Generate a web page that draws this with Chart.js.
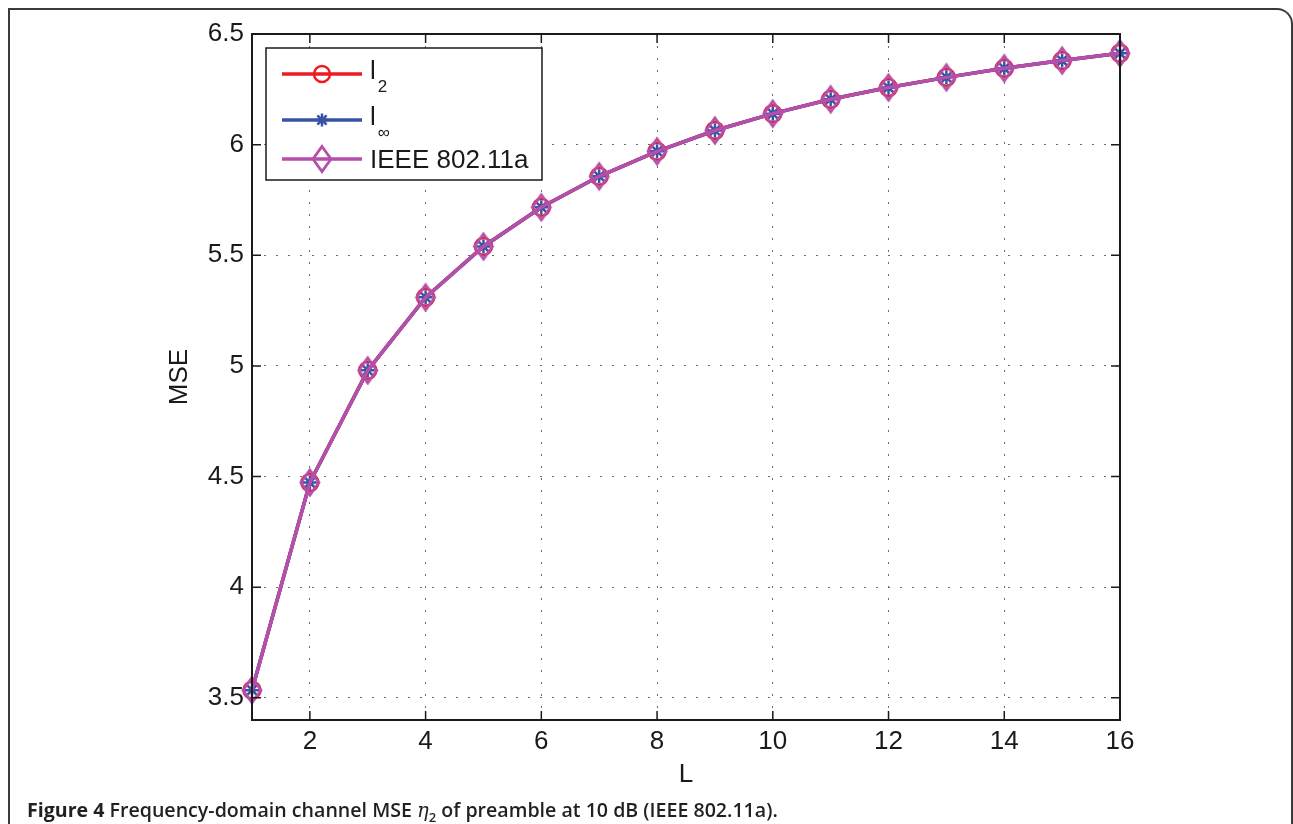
<!DOCTYPE html>
<html>
<head>
<meta charset="utf-8">
<script src="https://cdn.jsdelivr.net/npm/chart.js@4/dist/chart.umd.min.js"></script>
<style>
  body { margin: 0; background: #fff; }
  #moldura { position: absolute; left: 8px; top: 8px; width: 1281px; height: 840px;
             border: 2px solid #3a3a3a; border-bottom: none; border-top-right-radius: 16px; }
  #area { position: absolute; left: 0; top: 0; width: 1293px; height: 824px; }
  #legenda-figura { position: absolute; left: 27px; top: 796px; font-family: "Open Sans", sans-serif;
             font-size: 19.6px; font-weight: 600; color: #231f20; white-space: nowrap; }
  #legenda-figura b { font-weight: 700; }
  #legenda-figura i { font-family: "DejaVu Serif", serif; font-weight: 400; }
  #legenda-figura sub { font-size: 13px; }
</style>
</head>
<body>
<div id="moldura"></div>
<div id="area"><canvas id="grafico" width="1293" height="824"></canvas></div>
<div id="legenda-figura"><b>Figure 4</b> Frequency-domain channel MSE <i>η</i><sub>2</sub> of preamble at 10 dB (IEEE 802.11a).</div>

<script>
// dados
var valoresL = [1, 2, 3, 4, 5, 6, 7, 8, 9, 10, 11, 12, 13, 14, 15, 16];
var mseL2   = [3.535, 4.473, 4.98, 5.31, 5.54, 5.717, 5.857, 5.97, 6.064, 6.14, 6.205, 6.258, 6.304, 6.345, 6.38, 6.413];
var mseLinf = [3.535, 4.473, 4.98, 5.31, 5.54, 5.717, 5.857, 5.97, 6.064, 6.14, 6.205, 6.258, 6.304, 6.345, 6.38, 6.413];
var mseIeee = [3.535, 4.473, 4.98, 5.31, 5.54, 5.717, 5.857, 5.97, 6.064, 6.14, 6.205, 6.258, 6.304, 6.345, 6.38, 6.413];
var ticksX = [2, 4, 6, 8, 10, 12, 14, 16];
var ticksY = [3.5, 4, 4.5, 5, 5.5, 6, 6.5];
var nomesSerie = ['l', 'l', 'IEEE 802.11a'];
var subscritos = ['2', '\u221e', ''];

var vermelho = '#ed1c24';
var azul = '#3953a4';
var magenta = '#b54fa9';
var fonte = '"Liberation Sans", Arial, sans-serif';

function pontos(valores) {
  return valores.map(function(v, i) { return { x: valoresL[i], y: v }; });
}

// losango alto como o do matlab
function desenhaLosango(c, cx, cy) {
  c.moveTo(cx, cy - 12.5); c.lineTo(cx + 9, cy); c.lineTo(cx, cy + 12.5); c.lineTo(cx - 9, cy);
  c.closePath();
}
var losango = document.createElement('canvas');
losango.width = 24; losango.height = 31;
(function() {
  var c = losango.getContext('2d');
  c.strokeStyle = magenta;
  c.lineWidth = 2.8;
  c.lineJoin = 'miter';
  c.beginPath();
  desenhaLosango(c, 12, 15.5);
  c.stroke();
})();

// caixa do eixo com marcas para dentro (estilo matlab)
var caixaPlugin = {
  id: 'caixa',
  afterDatasetsDraw: function(chart) {
    var ctx = chart.ctx, a = chart.chartArea, x = chart.scales.x, y = chart.scales.y;
    ctx.save();
    ctx.strokeStyle = '#1a1a1a';
    ctx.lineWidth = 2;
    ctx.strokeRect(a.left, a.top, a.right - a.left, a.bottom - a.top);
    ctx.lineWidth = 1.5;
    ctx.beginPath();
    ticksX.forEach(function(v) {
      var px = x.getPixelForValue(v);
      ctx.moveTo(px, a.bottom); ctx.lineTo(px, a.bottom - 9);
      ctx.moveTo(px, a.top); ctx.lineTo(px, a.top + 9);
    });
    ticksY.forEach(function(v) {
      var py = y.getPixelForValue(v);
      ctx.moveTo(a.left, py); ctx.lineTo(a.left + 9, py);
      ctx.moveTo(a.right, py); ctx.lineTo(a.right - 9, py);
    });
    ctx.stroke();
    ctx.restore();
  }
};

function marcador(ctx, estilo, cor, cx, cy) {
  ctx.save();
  ctx.strokeStyle = cor;
  ctx.lineWidth = 2.5;
  ctx.beginPath();
  if (estilo === 'circle') {
    ctx.arc(cx, cy, 8, 0, Math.PI * 2);
  } else if (estilo === 'star') {
    for (var k = 0; k < 4; k++) {
      var ang = k * Math.PI / 4;
      ctx.moveTo(cx - 6.5 * Math.cos(ang), cy - 6.5 * Math.sin(ang));
      ctx.lineTo(cx + 6.5 * Math.cos(ang), cy + 6.5 * Math.sin(ang));
    }
  } else {
    ctx.lineWidth = 2.8;
    desenhaLosango(ctx, cx, cy);
  }
  ctx.stroke();
  ctx.restore();
}

// legenda desenhada a mao por causa dos subscritos
var legendaPlugin = {
  id: 'legendaManual',
  afterDraw: function(chart) {
    var ctx = chart.ctx, a = chart.chartArea;
    var lx = a.left + 14, ly = a.top + 14;
    var linhas = [26, 72, 111];
    var estilos = ['circle', 'star', 'diamond'];
    ctx.save();
    ctx.fillStyle = '#fff';
    ctx.fillRect(lx, ly, 276, 132);
    ctx.strokeStyle = '#1a1a1a';
    ctx.lineWidth = 1.5;
    ctx.strokeRect(lx, ly, 276, 132);
    chart.data.datasets.forEach(function(ds, i) {
      var yy = ly + linhas[i];
      ctx.strokeStyle = ds.borderColor;
      ctx.lineWidth = 3.5;
      ctx.beginPath();
      ctx.moveTo(lx + 16, yy); ctx.lineTo(lx + 96, yy);
      ctx.stroke();
      marcador(ctx, estilos[i], ds.borderColor, lx + 56, yy);
      ctx.fillStyle = '#1a1a1a';
      ctx.textBaseline = 'alphabetic';
      ctx.textAlign = 'left';
      ctx.font = '26px ' + fonte;
      if (subscritos[i]) {
        ctx.fillText(nomesSerie[i], lx + 104, yy + 5);
        var w = ctx.measureText(nomesSerie[i]).width;
        ctx.font = '17px ' + fonte;
        ctx.fillText(subscritos[i], lx + 104 + w + 2, yy + 18);
      } else {
        ctx.fillText(nomesSerie[i], lx + 104, yy + 9);
      }
    });
    ctx.restore();
  }
};

var ctx = document.getElementById('grafico').getContext('2d');
var grafico = new Chart(ctx, {
  type: 'line',
  data: {
    datasets: [{
      label: 'l2',
      data: pontos(mseL2),
      borderColor: vermelho,
      backgroundColor: 'rgba(0,0,0,0)',
      borderWidth: 3.5,
      pointStyle: 'circle',
      pointRadius: 8.5,
      pointBorderWidth: 2.5,
      pointBorderColor: vermelho,
      pointBackgroundColor: 'rgba(0,0,0,0)',
      order: 3,
      clip: false
    }, {
      label: 'linf',
      data: pontos(mseLinf),
      borderColor: azul,
      backgroundColor: 'rgba(0,0,0,0)',
      borderWidth: 3.5,
      pointStyle: 'star',
      pointRadius: 7,
      pointBorderWidth: 2.5,
      pointBorderColor: azul,
      pointBackgroundColor: 'rgba(0,0,0,0)',
      order: 2,
      clip: false
    }, {
      label: 'IEEE 802.11a',
      data: pontos(mseIeee),
      borderColor: magenta,
      backgroundColor: 'rgba(0,0,0,0)',
      borderWidth: 3.5,
      pointStyle: losango,
      pointRadius: 12,
      pointBorderColor: magenta,
      order: 1,
      clip: false
    }]
  },
  options: {
    responsive: false,
    animation: false,
    devicePixelRatio: 1,
    layout: { padding: { left: 160, top: 34, right: 173, bottom: 36 } },
    plugins: { legend: { display: false }, tooltip: { enabled: false } },
    scales: {
      x: {
        type: 'linear',
        min: 1,
        max: 16,
        afterBuildTicks: function(s) { s.ticks = ticksX.map(function(v) { return { value: v }; }); },
        afterFit: function(s) { s.height = 68; },
        ticks: { font: { family: fonte, size: 26 }, color: '#1a1a1a', padding: 6, maxRotation: 0, autoSkip: false },
        grid: { color: '#6a6a6a', lineWidth: 1, drawTicks: false },
        border: { display: false, dash: [2, 10] },
        title: { display: true, text: 'L', font: { family: fonte, size: 26, lineHeight: 1 }, color: '#1a1a1a', padding: 0 }
      },
      y: {
        min: 3.4,
        max: 6.5,
        afterBuildTicks: function(s) { s.ticks = ticksY.map(function(v) { return { value: v }; }); },
        afterFit: function(s) { s.width = 92; },
        ticks: {
          font: { family: fonte, size: 26 }, color: '#1a1a1a', padding: 8,
          callback: function(valor) { return String(valor); }
        },
        grid: { color: '#6a6a6a', lineWidth: 1, drawTicks: false },
        border: { display: false, dash: [2, 10] },
        title: { display: true, text: 'MSE', font: { family: fonte, size: 26, lineHeight: 1 }, color: '#1a1a1a', padding: { top: 7, bottom: 0 } }
      }
    }
  },
  plugins: [caixaPlugin, legendaPlugin]
});
</script>
</body>
</html>
